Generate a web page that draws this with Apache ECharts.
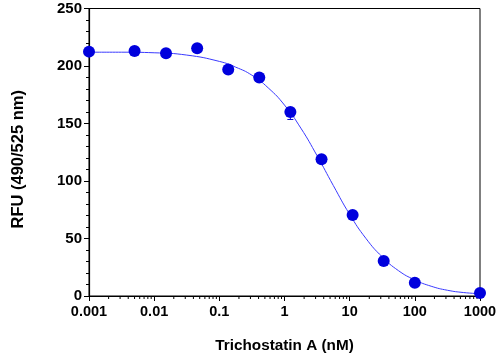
<!DOCTYPE html>
<html><head><meta charset="utf-8">
<script src="https://cdn.jsdelivr.net/npm/echarts@6/dist/echarts.min.js"></script>
<style>html,body{margin:0;padding:0;background:#fff}#c{width:500px;height:355px}</style>
</head><body><div id="c"></div>
<script>
var concentrations = [0.001, 0.005, 0.0152, 0.0457, 0.137, 0.41, 1.23, 3.7, 11.1, 33.3, 100, 1000];
var rfu = [212.5, 213, 211, 215.5, 197, 190, 160, 119, 70.5, 30.5, 11.5, 2.6];
var rfuErr = [0, 0, 0, 0, 0, 0, 6.5, 0, 0, 0, 0, 0];
var curveX = [0.001, 0.00316, 0.01, 0.0316, 0.1, 0.178, 0.316, 0.562, 1, 1.78, 3.16, 5.62, 10, 17.8, 31.6, 56.2, 100, 178, 316, 562, 1000];
var curveY = [212, 212, 211.5, 209.5, 204, 199, 192, 181, 166, 146, 122, 96, 71, 50, 34, 22, 14, 8.5, 5, 3, 2];
var xTickLabels = {'0.001':'0.001','0.01':'0.01','0.1':'0.1','1':'1','10':'10','100':'100','1000':'1000'};
var decades = [0.001, 0.01, 0.1, 1, 10, 100];
var minorMultipliers = [2, 3, 4, 5, 6, 7, 8, 9];

var minorTicks = [];
decades.forEach(function(d){ minorMultipliers.forEach(function(m){ minorTicks.push([+(d*m).toPrecision(3), 0]); }); });

var chart = echarts.init(document.getElementById('c'));
var font = 'Liberation Sans, Arial, sans-serif';
chart.setOption({
  animation: false,
  grid: {left: 89, right: 20, top: 8.5, bottom: 59, containLabel: false, outerBoundsMode: 'none',
    show: true, borderColor: '#000', borderWidth: 1},
  xAxis: {
    type: 'log', logBase: 10, min: 0.001, max: 1000,
    name: 'Trichostatin A (nM)', nameLocation: 'middle', nameGap: 42,
    nameTextStyle: {fontFamily: font, fontWeight: 'bold', fontSize: 15.3, color: '#000'},
    axisLine: {show: true, lineStyle: {color: '#000', width: 1.2}},
    axisTick: {show: true, length: 5, lineStyle: {color: '#000'}},
    splitLine: {show: false},
    axisLabel: {fontFamily: font, fontWeight: 'bold', fontSize: 14.5, color: '#000', margin: 8,
      formatter: function(v){ var k = String(+v.toPrecision(3)); return xTickLabels[k] || k; }}
  },
  yAxis: {
    type: 'value', min: 0, max: 250, interval: 50,
    name: 'RFU (490/525 nm)', nameLocation: 'middle', nameGap: 62,
    nameTextStyle: {fontFamily: font, fontWeight: 'bold', fontSize: 16.5, color: '#000', padding: [0, 14, 0, 0]},
    axisLine: {show: true, lineStyle: {color: '#000', width: 1.2}},
    axisTick: {show: true, length: 5, lineStyle: {color: '#000'}},
    minorTick: {show: true, splitNumber: 5, length: 3, lineStyle: {color: '#000'}},
    splitLine: {show: false},
    axisLabel: {fontFamily: font, fontWeight: 'bold', fontSize: 15, color: '#000', margin: 7}
  },
  series: [
    {
      type: 'custom', silent: true, clip: false, z: 1,
      data: minorTicks,
      renderItem: function(params, api){
        var p = api.coord([api.value(0), 0]);
        return {type: 'line', shape: {x1: p[0], y1: p[1], x2: p[0], y2: p[1] + 3}, style: {stroke: '#000', lineWidth: 1}};
      }
    },
    {
      type: 'line', smooth: true, symbol: 'none', z: 2,
      data: curveX.map(function(x, i){ return [x, curveY[i]]; }),
      lineStyle: {color: '#3a3aff', width: 1}
    },
    {
      type: 'custom', z: 3, clip: false,
      data: concentrations.map(function(x, i){ return [x, rfu[i], rfuErr[i]]; }).filter(function(d){ return d[2] > 0; }),
      renderItem: function(params, api){
        var x = api.value(0), y = api.value(1), e = api.value(2);
        var lo = api.coord([x, y - e]), mid = api.coord([x, y]);
        return {type: 'group', children: [
          {type: 'line', shape: {x1: lo[0], y1: lo[1], x2: mid[0], y2: mid[1]}, style: {stroke: '#0000dd', lineWidth: 1}},
          {type: 'line', shape: {x1: lo[0]-3, y1: lo[1], x2: lo[0]+3, y2: lo[1]}, style: {stroke: '#0000dd', lineWidth: 1}}
        ]};
      }
    },
    {
      type: 'scatter', z: 4, symbol: 'circle', symbolSize: 12, clip: false,
      data: concentrations.map(function(x, i){ return [x, rfu[i]]; }),
      itemStyle: {color: '#0000dd', opacity: 1}
    }
  ]
});
</script></body></html>
